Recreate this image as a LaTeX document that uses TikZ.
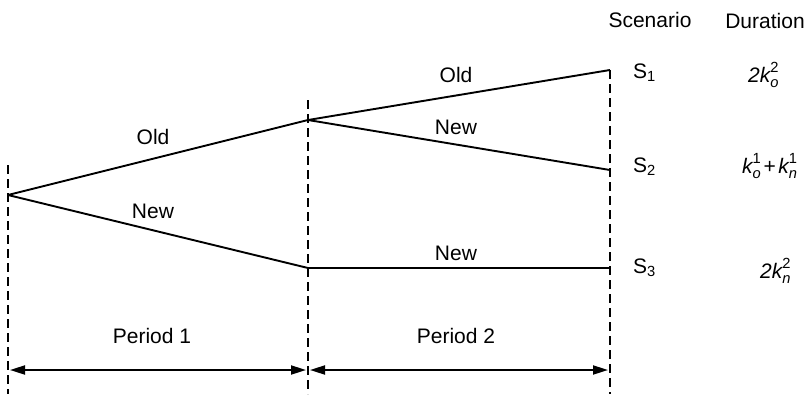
\documentclass[tikz,border=0pt]{standalone}
\usepackage{amsmath}
\usepackage{fontspec}
\setmainfont{Liberation Sans}
\usetikzlibrary{arrows.meta}
\newcommand{\dur}[1]{\text{\itshape #1}}
\begin{document}
\begin{tikzpicture}[x=1pt,y=-1pt,
  branch/.style={line width=1.9pt},
  guide/.style={line width=1.5pt,dash pattern=on 9pt off 5pt},
  span/.style={line width=1.9pt,{Triangle[length=15pt,width=9pt]}-{Triangle[length=15pt,width=9pt]},shorten <=2pt,shorten >=2pt},
  lbl/.style={inner sep=0pt,anchor=base,font=\fontsize{21}{25}\selectfont},
  lblw/.style={inner sep=0pt,anchor=base west,font=\fontsize{21}{25}\selectfont}]
\useasboundingbox (0,0) rectangle (806,394);

% decision points and scenario end points
\coordinate (root) at (8,195);
\coordinate (up) at (308,120);
\coordinate (lo) at (308,268);
\coordinate (e1) at (610,70);
\coordinate (e2) at (610,170);
\coordinate (e3) at (610,268);

% period boundaries
\coordinate (t0top) at (8,165);
\coordinate (t1top) at (308,100);
\coordinate (t2top) at (610,70);
\coordinate (t0bot) at (8,394);
\coordinate (t1bot) at (308,394);
\coordinate (t2bot) at (610,394);
\draw[guide] (t0top) -- (t0bot);
\draw[guide] (t1top) -- (t1bot);
\draw[guide] (t2top) -- (t2bot);

% decision tree
\draw[branch] (root) -- (up);
\draw[branch] (root) -- (lo);
\draw[branch] (up) -- (e1);
\draw[branch] (up) -- (e2);
\draw[branch] (lo) -- (e3);

\node[lbl] (o1) at (153,144) {Old};
\node[lbl] (n1) at (153,218) {New};
\node[lbl] (o2) at (456,82) {Old};
\node[lbl] (n2) at (456,134) {New};
\node[lbl] (n3) at (456,260) {New};

% period spans
\coordinate (a0) at (8,370);
\coordinate (a1) at (308,370);
\coordinate (a2) at (610,370);
\draw[span] (a0) -- (a1);
\draw[span] (a1) -- (a2);
\node[lbl] (p1) at (152,343) {Period 1};
\node[lbl] (p2) at (456,343) {Period 2};

% scenario table
\node[lbl] (hs) at (650,27) {Scenario};
\node[lbl] (hd) at (765,28) {Duration};
\node[lblw] (s1) at (633,78) {S$_{\text{1}}$};
\node[lblw] (s2) at (633,172) {S$_{\text{2}}$};
\node[lblw] (s3) at (633,273) {S$_{\text{3}}$};
\node[lblw] (d1) at (748,82) {$\dur{2k}^{\text{2}}_{\dur{o}}$};
\node[lblw] (d2) at (742,173) {$\dur{k}^{\text{1}}_{\dur{o}}\mkern2mu{\text{+}}\mkern2mu\dur{k}^{\text{1}}_{\dur{n}}$};
\node[lblw] (d3) at (760,278) {$\dur{2k}^{\text{2}}_{\dur{n}}$};
\end{tikzpicture}
\end{document}
